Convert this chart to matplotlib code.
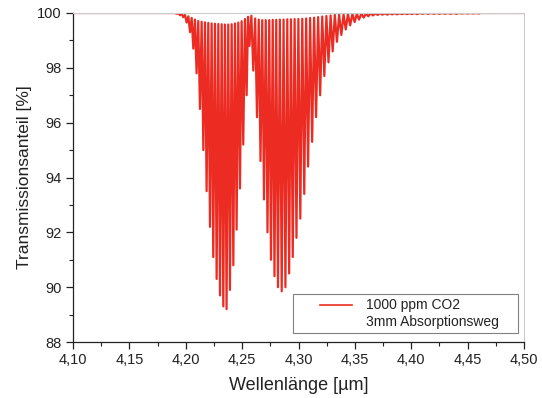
import matplotlib
matplotlib.use("Agg")
import matplotlib.pyplot as plt
from matplotlib.lines import Line2D
from matplotlib.patches import Rectangle
from matplotlib.ticker import MultipleLocator, FuncFormatter

plt.rcParams['font.family'] = ['Liberation Sans', 'DejaVu Sans']

# ---- data (wavelength in µm, transmission in %) ----
line_um = [4.1920, 4.1949, 4.1978, 4.2008, 4.2038, 4.2067, 4.2096, 4.2126, 4.2156,
           4.2185, 4.2215, 4.2244, 4.2274, 4.2304, 4.2333, 4.2362, 4.2392,
           4.2422, 4.2451, 4.2481, 4.2510, 4.2540, 4.2565,
           4.2599, 4.2632, 4.2663, 4.2694, 4.2725, 4.2756, 4.2787, 4.2818,
           4.2851, 4.2884, 4.2917, 4.2949, 4.2982, 4.3016, 4.3051, 4.3085,
           4.3121, 4.3156, 4.3192, 4.3229, 4.3266, 4.3303, 4.3341, 4.3380,
           4.3419, 4.3458, 4.3498, 4.3537, 4.3578, 4.3619, 4.3661, 4.3702,
           4.3745, 4.3788, 4.3831, 4.3874, 4.3918, 4.3962, 4.4007, 4.4051,
           4.4100, 4.4150, 4.4200, 4.4250, 4.4300, 4.4350, 4.4400, 4.4450,
           4.4500, 4.4550, 4.4600]
line_min = [99.97, 99.92, 99.85, 99.65, 99.30, 98.70, 97.80, 96.50, 95.00,
            93.50, 92.20, 91.10, 90.30, 89.70, 89.30, 89.20, 89.90,
            90.80, 92.10, 93.60, 95.20, 97.00, 98.80,
            97.90, 96.20, 94.60, 93.20, 92.00, 91.00, 90.40, 90.00,
            89.85, 90.00, 90.50, 91.10, 91.80, 92.50, 93.40, 94.40,
            95.30, 96.20, 97.00, 97.70, 98.20, 98.60, 98.95, 99.20,
            99.40, 99.55, 99.67, 99.76, 99.83, 99.88, 99.91, 99.93,
            99.94, 99.94, 99.95, 99.95, 99.96, 99.96, 99.96, 99.96,
            99.97, 99.97, 99.97, 99.97, 99.97, 99.97, 99.97, 99.98,
            99.98, 99.98, 99.98]
line_top = [99.99, 99.97, 99.93, 99.88, 99.82, 99.76, 99.71, 99.68, 99.66,
            99.64, 99.62, 99.61, 99.60, 99.59, 99.58, 99.58, 99.59,
            99.62, 99.65, 99.70, 99.78, 99.86, 99.90,
            99.80, 99.76, 99.74, 99.74, 99.74, 99.75, 99.75, 99.76,
            99.76, 99.77, 99.77, 99.78, 99.78, 99.79, 99.80, 99.82,
            99.83, 99.85, 99.87, 99.89, 99.91, 99.93, 99.94, 99.95,
            99.96, 99.97, 99.97, 99.98, 99.98, 99.99, 99.99, 99.99,
            99.99, 99.99, 99.99, 99.99, 99.99, 99.99, 100.0, 100.0,
            100.0, 100.0, 100.0, 100.0, 100.0, 100.0, 100.0, 100.0,
            100.0, 100.0, 100.0]
x_range = [4.10, 4.50]
y_range = [88, 100]
legend_labels = ["1000 ppm CO2", "3mm Absorptionsweg"]

# ---- build spectrum trace ----
xs = [x_range[0], line_um[0] - 0.0015]
ys = [100.0, 100.0]
n = len(line_um)
for i in range(n):
    xs.append(line_um[i]); ys.append(line_min[i])
    if i < n - 1:
        xs.append((line_um[i] + line_um[i + 1]) / 2); ys.append(line_top[i])
xs += [line_um[-1] + 0.0015, x_range[1]]
ys += [100.0, 100.0]

red = '#ec2b22'
fig = plt.figure(figsize=(5.42, 3.98), dpi=100)
ax = fig.add_axes([73/542, 1 - 342/398, 451/542, 329/398])
ax.plot(xs, ys, color=red, lw=1.6, solid_joinstyle='round', zorder=2)

ax.set_xlim(*x_range)
ax.set_ylim(*y_range)
ax.xaxis.set_major_locator(MultipleLocator(0.05))
ax.xaxis.set_minor_locator(MultipleLocator(0.025))
ax.yaxis.set_major_locator(MultipleLocator(2))
ax.yaxis.set_minor_locator(MultipleLocator(1))
ax.xaxis.set_major_formatter(FuncFormatter(lambda v, p: f"{v:.2f}".replace('.', ',')))
ax.yaxis.set_major_formatter(FuncFormatter(lambda v, p: f"{v:.0f}"))
ax.tick_params(which='major', direction='out', length=5, width=0.9,
               labelsize=10.5, colors='#222222', pad=3)
ax.tick_params(which='minor', direction='out', length=3, width=0.8, colors='#222222')
ax.tick_params(top=False, right=False)
for s in ['left', 'bottom']:
    ax.spines[s].set_color('#222222')
    ax.spines[s].set_linewidth(0.9)
for s in ['top', 'right']:
    ax.spines[s].set_color('#cccccc')
    ax.spines[s].set_linewidth(0.8)

ax.set_xlabel("Wellenlänge [µm]", fontsize=13, color='#222222', labelpad=7)
ax.set_ylabel("Transmissionsanteil [%]", fontsize=12.5, color='#222222', labelpad=4)

# legend box
ax.add_patch(Rectangle((220/451, 9/329), 225/451, 39/329, transform=ax.transAxes,
                       facecolor='white', edgecolor='#808080', lw=0.8, zorder=5))
h1 = Line2D([], [], color=red, lw=1.2)
h2 = Line2D([], [], color='none', lw=0)
leg = ax.legend([h1, h2], legend_labels, loc='center left',
                bbox_to_anchor=(247/451, 28.5/329), frameon=False, fontsize=10,
                handlelength=2.3, handletextpad=1.0, labelspacing=0.15,
                borderpad=0, borderaxespad=0)
leg.set_zorder(6)
for t in leg.get_texts():
    t.set_color('#222222')

fig.savefig("out.png", dpi=100)
